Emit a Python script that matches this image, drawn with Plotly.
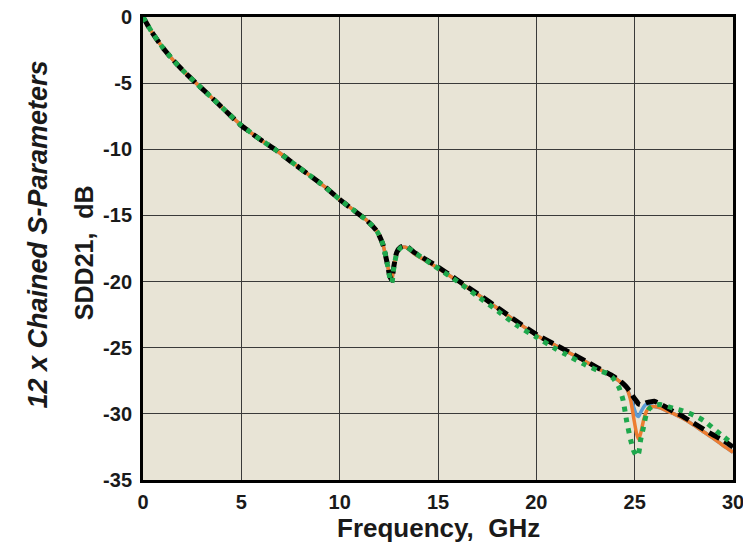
import plotly.graph_objects as go

freq = [0, 0.25, 0.5, 1, 1.5, 2, 2.7, 3.5, 4.2, 5, 6, 6.7, 7.5, 8.5, 9.3, 10,
        10.8, 11.4, 11.9, 12.2, 12.4, 12.55, 12.65, 12.75, 12.9, 13.1, 13.35, 13.8,
        14.8, 16, 17, 18.15, 19, 20, 21, 21.5, 22.5, 23.1, 23.6, 23.9, 24.2, 24.4,
        24.6, 24.8, 24.95, 25.1, 25.2, 25.3, 25.45, 25.6, 25.75, 26.0, 26.3, 26.6,
        27.0, 27.4, 28.0, 28.5, 29.0, 29.5, 30]

black = [0, -0.65, -1.25, -2.3, -3.2, -4.0, -5.0, -6.1, -7.1, -8.2, -9.3, -10.0,
         -10.9, -12.0, -12.9, -13.8, -14.7, -15.4, -16.2, -17.2, -18.5, -19.6, -19.9,
         -18.9, -17.8, -17.4, -17.3, -17.8, -18.7, -19.9, -20.9, -22.1, -23.0, -24.0,
         -24.8, -25.2, -26.0, -26.5, -26.9, -27.15, -27.45, -27.7, -28.0, -28.4,
         -28.75, -29.05, -29.25, -29.3, -29.25, -29.15, -29.1, -29.05, -29.25, -29.5,
         -29.85, -30.15, -30.7, -31.15, -31.6, -32.0, -32.5]

orange = [0, -0.65, -1.25, -2.3, -3.2, -4.0, -5.0, -6.1, -7.1, -8.2, -9.3, -10.0,
          -10.9, -12.0, -12.9, -13.8, -14.7, -15.4, -16.2, -17.2, -18.5, -19.6, -19.9,
          -18.9, -17.8, -17.45, -17.4, -17.9, -18.8, -19.95, -20.95, -22.15, -23.05,
          -24.05, -24.85, -25.25, -26.05, -26.55, -26.95, -27.2, -27.5, -27.75,
          -28.1, -29.0, -30.3, -31.5, -31.9, -31.5, -30.5, -29.8, -29.5, -29.45,
          -29.55, -29.75, -30.0, -30.3, -30.85, -31.35, -31.85, -32.4, -32.9]

blue = [0, -0.65, -1.25, -2.3, -3.2, -4.0, -5.0, -6.1, -7.1, -8.2, -9.3, -10.0,
        -10.9, -12.0, -12.9, -13.8, -14.7, -15.4, -16.2, -17.2, -18.5, -19.6, -19.9,
        -18.9, -17.8, -17.45, -17.4, -17.9, -18.8, -19.95, -20.95, -22.15, -23.05,
        -24.05, -24.85, -25.25, -26.05, -26.55, -26.95, -27.2, -27.5, -27.75,
        -28.1, -28.8, -29.5, -30.1, -30.2, -29.9, -29.5, -29.25, -29.35, -29.45,
        -29.55, -29.75, -30.0, -30.3, -30.85, -31.35, -31.85, -32.4, -32.9]

green = [0, -0.65, -1.25, -2.3, -3.2, -4.0, -5.0, -6.1, -7.1, -8.2, -9.3, -10.0,
         -10.9, -12.0, -12.9, -13.8, -14.7, -15.4, -16.2, -17.2, -18.5, -19.7, -20.1,
         -19.0, -17.9, -17.45, -17.35, -17.8, -18.8, -20.0, -21.1, -22.35, -23.3,
         -24.2, -25.1, -25.5, -26.3, -26.7, -26.95, -27.3, -28.0, -28.9, -30.6,
         -32.0, -32.8, -33.2, -33.0, -32.0, -31.0, -30.0, -29.6, -29.35, -29.3,
         -29.4, -29.6, -29.75, -30.1, -30.5, -31.1, -31.7, -32.3]

x_ticks = [0, 5, 10, 15, 20, 25, 30]
y_ticks = [0, -5, -10, -15, -20, -25, -30, -35]

FONT = "Arial, 'Liberation Sans', sans-serif"

fig = go.Figure()
fig.add_trace(go.Scatter(x=freq, y=blue, mode="lines",
                         line=dict(color="#5B9BD5", width=3.5, shape="spline", smoothing=0.6)))
fig.add_trace(go.Scatter(x=freq, y=orange, mode="lines",
                         line=dict(color="#ED7D31", width=3.5, shape="spline", smoothing=0.6)))
fig.add_trace(go.Scatter(x=freq, y=black, mode="lines",
                         line=dict(color="#000000", width=5, dash="12px,6px", shape="spline", smoothing=0.6)))
fig.add_trace(go.Scatter(x=freq, y=green, mode="lines",
                         line=dict(color="#1EA84C", width=5, dash="5px,6px", shape="spline", smoothing=0.6)))

axis_common = dict(
    showline=True, linecolor="black", linewidth=3, mirror=True,
    showgrid=True, gridcolor="#3a3a3a", gridwidth=1,
    zeroline=False, ticks="", automargin=False, ticklabeloverflow="allow",
    tickfont=dict(family=FONT, size=20, color="#1a1a1a", weight="bold"),
)

fig.update_layout(
    width=743, height=545,
    margin=dict(l=143, r=10, t=17, b=65),
    paper_bgcolor="white",
    plot_bgcolor="#E8E4D6",
    showlegend=False,
    xaxis=dict(range=[0, 30], tickvals=x_ticks, ticktext=[str(v) for v in x_ticks],
               ticklabelstandoff=2, **axis_common),
    yaxis=dict(range=[-35, 0], tickvals=y_ticks, ticktext=[str(v) for v in y_ticks],
               ticklabelstandoff=4, **axis_common),
    annotations=[
        dict(text="Frequency,\u00a0\u00a0GHz", xref="paper", yref="paper",
             x=0.5, y=-0.103, xanchor="center", yanchor="middle", showarrow=False,
             font=dict(family=FONT, size=26, color="#1a1a1a", weight="bold")),
        dict(text="SDD21,\u00a0\u00a0dB", xref="paper", yref="paper",
             x=(84 - 143) / 590, y=0.49, xanchor="center", yanchor="middle",
             textangle=-90, showarrow=False,
             font=dict(family=FONT, size=25, color="#1a1a1a", weight="bold")),
        dict(text="12 x Chained S-Parameters", xref="paper", yref="paper",
             x=(38 - 143) / 590, y=0.53, xanchor="center", yanchor="middle",
             textangle=-90, showarrow=False,
             font=dict(family=FONT, size=27, color="#1a1a1a", weight="bold", style="italic")),
    ],
)

fig.write_html("out.html")
